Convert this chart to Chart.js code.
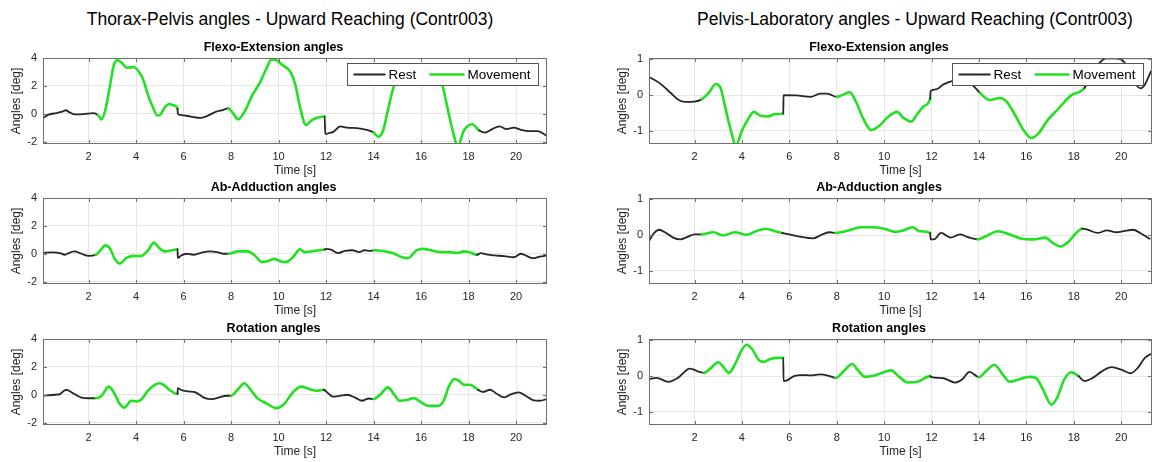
<!DOCTYPE html>
<html>
<head>
<meta charset="utf-8">
<script src="https://cdn.jsdelivr.net/npm/chart.js@4.4.1/dist/chart.umd.min.js"></script>
<style>
  html, body { margin: 0; padding: 0; background: #fff; width: 1158px; height: 462px; overflow: hidden; }
  .sup { position: absolute; top: 9px; line-height: 20px; font-size: 17.5px; font-family: "Liberation Sans", Arial, Helvetica, sans-serif; color: #000; white-space: nowrap; transform: translateX(-50%); }
  canvas { position: absolute; }
</style>
</head>
<body>
<div class="sup" style="left:290px">Thorax-Pelvis angles - Upward Reaching (Contr003)</div>
<div class="sup" style="left:915px">Pelvis-Laboratory angles - Upward Reaching (Contr003)</div>

<canvas id="flexL" width="560" height="138" style="left:0;top:40px"></canvas>
<canvas id="abL" width="560" height="138" style="left:0;top:180px"></canvas>
<canvas id="rotL" width="560" height="138" style="left:0;top:321px"></canvas>
<canvas id="flexR" width="552" height="138" style="left:606px;top:40px"></canvas>
<canvas id="abR" width="552" height="138" style="left:606px;top:180px"></canvas>
<canvas id="rotR" width="552" height="138" style="left:606px;top:321px"></canvas>

<script>
// ---- data: [time s, angle deg] samples ----
const flexL = [[0.08,-0.3],[0.34,-0.05],[0.65,0.05],[0.89,0.15],[1.04,0.25],[1.2,0.1],[1.43,-0.05],[1.8,-0.03],[2.2,0.05],[2.4,-0.1],[2.55,-0.4],[2.7,0.25],[2.9,2.0],[3.05,3.4],[3.2,3.85],[3.4,3.65],[3.6,3.3],[3.9,3.35],[4.1,3.05],[4.3,2.45],[4.5,1.35],[4.7,0.5],[4.9,-0.12],[5.0,-0.1],[5.2,0.45],[5.4,0.7],[5.6,0.6],[5.745,0.35],[5.755,0.0],[5.9,-0.1],[6.3,-0.2],[6.7,-0.3],[7.0,-0.15],[7.3,0.1],[7.6,0.25],[7.9,0.38],[8.05,0.1],[8.3,-0.4],[8.6,0.25],[8.9,1.35],[9.2,2.2],[9.5,3.3],[9.7,3.9],[9.9,3.85],[10.2,3.45],[10.5,3.0],[10.7,2.1],[10.9,0.5],[11.15,-0.8],[11.4,-0.45],[11.7,-0.25],[11.94,-0.2],[11.96,-1.45],[12.1,-1.4],[12.3,-1.3],[12.6,-0.9],[12.9,-1.0],[13.3,-1.03],[13.7,-1.15],[14.0,-1.35],[14.2,-1.65],[14.4,-1.2],[14.6,0.25],[14.85,1.95],[15.2,3.05],[15.8,3.25],[16.4,3.05],[16.9,2.0],[17.1,0.5],[17.3,-1.0],[17.55,-2.3],[17.8,-1.2],[18.15,-0.75],[18.45,-1.2],[18.7,-1.35],[19.0,-1.1],[19.3,-0.9],[19.6,-1.1],[19.9,-1.0],[20.2,-1.15],[20.5,-1.25],[20.9,-1.25],[21.3,-1.6]];
const abL = [[0.08,0.07],[0.5,0.1],[0.8,0.05],[1.0,-0.07],[1.1,0.0],[1.4,0.17],[1.7,0.0],[2.0,-0.15],[2.3,-0.07],[2.5,0.25],[2.7,0.6],[2.9,0.37],[3.1,-0.37],[3.3,-0.7],[3.6,-0.3],[3.9,-0.15],[4.2,-0.17],[4.5,0.25],[4.75,0.8],[4.95,0.45],[5.2,0.17],[5.5,0.25],[5.745,0.32],[5.755,-0.3],[5.9,-0.12],[6.1,0.0],[6.4,-0.07],[6.7,0.05],[7.1,0.17],[7.4,0.12],[7.7,0.0],[7.9,0.0],[8.3,0.17],[8.7,0.17],[9.0,-0.12],[9.3,-0.6],[9.6,-0.5],[9.8,-0.37],[10.1,-0.55],[10.3,-0.6],[10.6,-0.25],[10.9,0.32],[11.1,0.12],[11.4,0.17],[11.7,0.25],[11.94,0.3],[12.0,0.35],[12.2,0.3],[12.5,0.05],[12.8,0.2],[13.1,0.25],[13.4,0.12],[13.6,0.25],[13.9,0.2],[14.0,0.25],[14.4,0.2],[14.8,0.05],[15.2,-0.25],[15.45,-0.32],[15.8,0.25],[16.1,0.35],[16.4,0.25],[16.8,0.12],[17.2,0.12],[17.5,0.05],[17.8,0.17],[18.0,0.12],[18.35,-0.07],[18.5,0.05],[18.8,-0.07],[19.1,-0.12],[19.5,-0.17],[19.9,-0.25],[20.2,0.0],[20.4,-0.12],[20.7,-0.32],[21.0,-0.2],[21.3,-0.12]];
const rotL = [[0.08,-0.07],[0.6,0.0],[0.8,0.05],[1.05,0.36],[1.4,0.05],[1.7,-0.2],[2.0,-0.25],[2.3,-0.25],[2.55,-0.07],[2.85,0.58],[3.1,0.05],[3.3,-0.63],[3.5,-0.92],[3.8,-0.43],[4.0,-0.48],[4.2,-0.38],[4.5,0.29],[4.8,0.72],[5.0,0.82],[5.2,0.65],[5.45,0.29],[5.745,0.05],[5.755,0.48],[5.9,0.34],[6.2,0.24],[6.5,0.17],[6.9,-0.24],[7.2,-0.31],[7.5,-0.19],[7.8,-0.07],[8.0,-0.07],[8.3,0.41],[8.55,0.82],[8.8,0.41],[9.1,-0.24],[9.5,-0.63],[9.9,-0.96],[10.2,-0.72],[10.6,0.17],[10.95,0.58],[11.3,0.41],[11.6,0.29],[11.9,0.36],[12.0,0.24],[12.3,-0.14],[12.6,-0.07],[12.9,0.0],[13.2,-0.19],[13.5,-0.43],[13.8,-0.27],[14.0,-0.31],[14.3,0.05],[14.6,0.53],[14.9,-0.07],[15.1,-0.43],[15.4,-0.38],[15.7,-0.24],[16.0,-0.55],[16.3,-0.8],[16.7,-0.8],[16.95,-0.43],[17.15,0.53],[17.4,1.13],[17.6,1.0],[17.8,0.72],[18.05,0.72],[18.4,0.35],[18.6,0.2],[18.9,0.36],[19.2,0.05],[19.5,-0.19],[19.8,0.05],[20.1,0.17],[20.4,-0.07],[20.7,-0.38],[21.0,-0.43],[21.3,-0.31]];
const flexR = [[0.05,0.52],[0.5,0.35],[1.0,0.06],[1.3,-0.12],[1.6,-0.19],[2.0,-0.18],[2.3,-0.12],[2.6,0.06],[2.9,0.31],[3.1,0.2],[3.3,-0.35],[3.5,-0.9],[3.75,-1.4],[4.0,-1.0],[4.3,-0.63],[4.5,-0.47],[4.8,-0.58],[5.1,-0.6],[5.4,-0.53],[5.745,-0.52],[5.755,0.0],[6.3,-0.01],[6.9,-0.05],[7.3,0.04],[7.6,0.04],[8.0,-0.05],[8.3,0.02],[8.55,0.08],[8.8,-0.17],[9.1,-0.63],[9.45,-0.98],[9.8,-0.86],[10.1,-0.65],[10.55,-0.47],[10.8,-0.63],[11.15,-0.74],[11.4,-0.53],[11.7,-0.3],[11.94,-0.1],[11.96,0.11],[12.2,0.16],[12.5,0.3],[12.9,0.4],[13.3,0.42],[13.7,0.3],[14.05,0.06],[14.45,-0.14],[14.9,-0.08],[15.2,-0.21],[15.5,-0.53],[15.9,-1.0],[16.2,-1.2],[16.5,-1.08],[16.9,-0.7],[17.3,-0.42],[17.9,0.0],[18.25,0.09],[18.45,0.2],[18.7,0.5],[19.02,0.85],[19.36,1.03],[19.7,1.03],[20.0,1.0],[20.2,0.85],[20.45,0.5],[20.65,0.27],[20.82,0.19],[21.0,0.3],[21.25,0.66]];
const abR = [[0.05,-0.2],[0.3,0.06],[0.5,0.15],[0.8,0.06],[1.1,-0.07],[1.4,-0.12],[1.7,-0.05],[2.0,0.02],[2.3,0.02],[2.8,0.08],[3.2,-0.01],[3.7,0.08],[4.2,0.01],[4.6,0.11],[5.0,0.18],[5.3,0.13],[5.7,0.06],[6.0,0.02],[6.5,-0.05],[7.0,-0.09],[7.4,0.02],[7.7,0.08],[7.95,0.06],[8.5,0.13],[9.0,0.22],[9.5,0.22],[10.0,0.18],[10.5,0.09],[10.8,0.13],[11.2,0.22],[11.5,0.11],[11.94,0.06],[11.96,-0.12],[12.1,-0.12],[12.4,0.06],[12.8,-0.07],[13.2,0.02],[13.5,-0.05],[13.95,-0.12],[14.3,-0.03],[14.8,0.11],[15.3,0.02],[15.8,-0.1],[16.3,-0.12],[16.8,-0.07],[17.1,-0.21],[17.45,-0.32],[17.8,-0.17],[18.1,0.06],[18.35,0.18],[18.6,0.15],[19.0,0.06],[19.4,0.13],[19.8,0.08],[20.1,0.11],[20.5,0.15],[20.8,0.06],[21.2,-0.1]];
const rotR = [[0.05,-0.09],[0.4,-0.05],[0.9,-0.16],[1.3,-0.05],[1.8,0.21],[2.2,0.12],[2.4,0.09],[2.7,0.23],[3.0,0.39],[3.25,0.23],[3.45,0.09],[3.7,0.32],[4.0,0.74],[4.2,0.88],[4.45,0.74],[4.7,0.46],[4.9,0.4],[5.2,0.48],[5.5,0.51],[5.745,0.51],[5.755,-0.14],[5.9,-0.12],[6.2,0.0],[6.5,0.03],[6.9,0.02],[7.3,0.05],[7.7,0.0],[7.95,-0.05],[8.3,0.14],[8.65,0.34],[8.9,0.16],[9.2,-0.02],[9.6,0.02],[10.0,0.11],[10.3,0.16],[10.6,0.0],[11.0,-0.18],[11.4,-0.16],[11.94,0.0],[12.0,-0.03],[12.5,-0.06],[13.0,-0.18],[13.3,-0.09],[13.6,0.12],[14.0,-0.03],[14.3,0.14],[14.65,0.32],[15.0,0.05],[15.3,-0.16],[15.7,-0.09],[16.1,-0.02],[16.4,-0.05],[16.7,-0.37],[17.05,-0.8],[17.3,-0.6],[17.6,-0.09],[17.9,0.11],[18.2,0.0],[18.45,-0.14],[18.8,-0.05],[19.2,0.14],[19.6,0.25],[20.0,0.18],[20.4,0.08],[20.7,0.23],[21.0,0.51],[21.25,0.62]];

// movement phases [start, end] in seconds (everything else is rest)
const moveFlexL = [[2.4, 5.745], [7.9, 11.94], [14.0, 18.45]];
const moveAbL   = [[2.3, 5.745], [7.9, 11.94], [14.0, 18.35]];
const moveRotL  = [[2.3, 5.745], [8.0, 11.9], [14.0, 18.4]];
const moveFlexR = [[2.3, 5.745], [8.0, 11.94], [14.05, 18.45]];
const moveAbR   = [[2.3, 5.7], [7.95, 11.94], [13.95, 18.35]];
const moveRotR  = [[2.4, 5.745], [7.95, 11.94], [14.0, 18.2]];

const xTicks = [2, 4, 6, 8, 10, 12, 14, 16, 18, 20];
const yTicksL = [-2, 0, 2, 4];
const yTicksR = [-1, 0, 1];
const legendLabels = ['Rest', 'Movement'];

const REST = '#262626';
const MOVE = 'rgb(34,224,34)';
const GRID = '#e6e6e6';
const TXT = '#262626';
const FONT = '"Liberation Sans", Arial, Helvetica, sans-serif';

Chart.defaults.font.family = FONT;

function inMove(samples, moves, i0, i1) {
  const mid = (samples[i0][0] + samples[i1][0]) / 2;
  return moves.some(w => mid > w[0] && mid < w[1]);
}

const framePlugin = {
  id: 'frame',
  afterDraw(chart, args, opts) {
    const { ctx, chartArea: a, scales } = chart;
    ctx.save();
    if (opts.legend) {
      const w = 191, h = 22;
      const bx = Math.round(a.right - 9 - w) + 0.5, by = Math.round(a.top + 5) + 0.5;
      ctx.fillStyle = '#fff';
      ctx.fillRect(bx, by, w, h);
      ctx.strokeStyle = '#555';
      ctx.lineWidth = 1;
      ctx.strokeRect(bx, by, w, h);
      const my = by + h / 2;
      const items = [
        { x0: 6, x1: 38, tx: 41, color: REST, lw: 2 },
        { x0: 82, x1: 117, tx: 120, color: MOVE, lw: 2.6 }
      ];
      ctx.font = '13.5px ' + FONT;
      ctx.textBaseline = 'middle';
      items.forEach((it, k) => {
        ctx.beginPath();
        ctx.strokeStyle = it.color;
        ctx.lineWidth = it.lw;
        ctx.moveTo(bx + it.x0, my);
        ctx.lineTo(bx + it.x1, my);
        ctx.stroke();
        ctx.fillStyle = '#000';
        ctx.fillText(legendLabels[k], bx + it.tx, my + 0.5);
      });
    }
    // axes box with inward tick marks
    ctx.strokeStyle = '#707070';
    ctx.lineWidth = 1;
    ctx.strokeRect(Math.round(a.left) + 0.5, Math.round(a.top) + 0.5, Math.round(a.right - a.left) - 1, Math.round(a.bottom - a.top) - 1);
    const tl = 4;
    ctx.beginPath();
    scales.x.ticks.forEach(t => {
      const px = Math.round(scales.x.getPixelForValue(t.value)) + 0.5;
      ctx.moveTo(px, a.top); ctx.lineTo(px, a.top + tl);
      ctx.moveTo(px, a.bottom); ctx.lineTo(px, a.bottom - tl);
    });
    scales.y.ticks.forEach(t => {
      const py = Math.round(scales.y.getPixelForValue(t.value)) + 0.5;
      ctx.moveTo(a.left, py); ctx.lineTo(a.left + tl, py);
      ctx.moveTo(a.right, py); ctx.lineTo(a.right - tl, py);
    });
    ctx.stroke();
    ctx.restore();
  }
};

function makeChart(id, title, samples, moves, yMin, yMax, yTicks, padRight, legend) {
  return new Chart(document.getElementById(id), {
    type: 'line',
    data: {
      datasets: [{
        label: title,
        data: samples.map(p => ({ x: p[0], y: p[1] })),
        borderColor: REST,
        borderWidth: 2,
        pointRadius: 0,
        cubicInterpolationMode: 'monotone',
        borderJoinStyle: 'round',
        borderCapStyle: 'round',
        clip: 0,
        segment: {
          borderColor: c => inMove(samples, moves, c.p0DataIndex, c.p1DataIndex) ? MOVE : REST,
          borderWidth: c => inMove(samples, moves, c.p0DataIndex, c.p1DataIndex) ? 2.6 : 1.8
        }
      }]
    },
    options: {
      responsive: false,
      animation: false,
      events: [],
      layout: { padding: { left: 0, right: padRight, top: 0, bottom: 0 } },
      plugins: {
        legend: { display: false },
        tooltip: { enabled: false },
        title: {
          display: true,
          text: title,
          color: '#000',
          font: { size: 12.5, weight: 'bold' },
          padding: { top: 0, bottom: 3 }
        },
        frame: { legend: legend }
      },
      scales: {
        x: {
          type: 'linear',
          min: 0.08,
          max: 21.3,
          afterBuildTicks: s => { s.ticks = xTicks.map(v => ({ value: v })); },
          afterFit: s => { s.height = 34; },
          grid: { color: GRID, drawTicks: false },
          border: { display: false },
          ticks: { color: TXT, font: { size: 11 }, padding: 6, maxRotation: 0, autoSkip: false, callback: v => String(v) },
          title: { display: true, text: 'Time [s]', color: TXT, font: { size: 12 }, padding: 0 }
        },
        y: {
          type: 'linear',
          min: yMin,
          max: yMax,
          afterBuildTicks: s => { s.ticks = yTicks.map(v => ({ value: v })); },
          afterFit: s => { s.width = 43; },
          grid: { color: GRID, drawTicks: false },
          border: { display: false },
          ticks: { color: TXT, font: { size: 11 }, padding: 6, autoSkip: false, callback: v => String(v) },
          title: { display: true, text: 'Angles [deg]', color: TXT, font: { size: 12 }, padding: { top: 9, bottom: 0 } }
        }
      }
    },
    plugins: [framePlugin]
  });
}

makeChart('flexL', 'Flexo-Extension angles', flexL, moveFlexL, -2.17, 4, yTicksL, 13, true);
makeChart('abL', 'Ab-Adduction angles', abL, moveAbL, -2.17, 4, yTicksL, 13, false);
makeChart('rotL', 'Rotation angles', rotL, moveRotL, -2.17, 4, yTicksL, 13, false);
makeChart('flexR', 'Flexo-Extension angles', flexR, moveFlexR, -1.37, 1.04, yTicksR, 6, true);
makeChart('abR', 'Ab-Adduction angles', abR, moveAbR, -1.37, 1.04, yTicksR, 6, false);
makeChart('rotR', 'Rotation angles', rotR, moveRotR, -1.37, 1.04, yTicksR, 6, false);
</script>
</body>
</html>
